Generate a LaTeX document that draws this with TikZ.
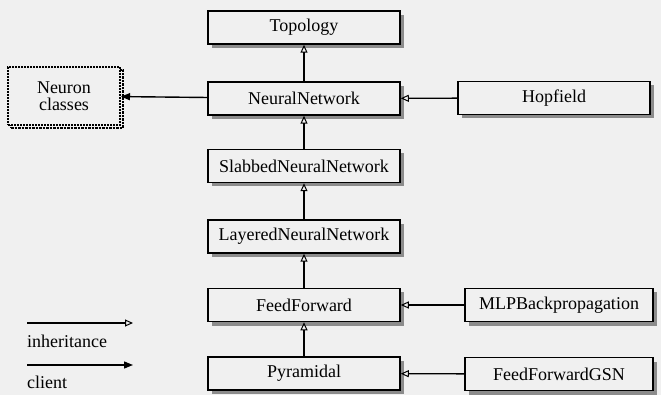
\documentclass[tikz,border=0pt]{standalone}
\usepackage{fontspec}
\setmainfont{Liberation Serif}
\usetikzlibrary{arrows.meta}

\tikzset{
  classbox/.style={draw, line width=1.5pt, fill=black!6, minimum width=192pt, minimum height=33pt,
    inner sep=0pt, font=\fontsize{18}{20}\selectfont,
    preaction={fill=black!45, transform canvas={xshift=4pt, yshift=-4pt}}},
  clusterbox/.style={draw, densely dotted, line width=2pt, fill=black!6, minimum width=112pt, minimum height=58pt,
    inner sep=0pt, align=center, font=\fontsize{18}{17}\selectfont,
    preaction={draw=black, densely dotted, line width=2.5pt, transform canvas={xshift=3pt, yshift=-3pt}}},
  inherit/.style={line width=1.4pt, -{Triangle[open, length=8pt, width=7pt, line width=1pt]}},
  client/.style={line width=1.4pt, -{Triangle[length=9pt, width=7pt]}}
}

\begin{document}
\begin{tikzpicture}[x=1pt, y=-1pt]
  \fill[black!6] (0,0) rectangle (661,395);
  \useasboundingbox (0,0) rectangle (661,395);

  \node[classbox] (topo) at (304,27.5) {Topology};
  \node[classbox] (nn) at (304,98.5) {NeuralNetwork};
  \node[classbox] (slab) at (304,166) {SlabbedNeuralNetwork};
  \node[classbox] (layer) at (304,236.5) {LayeredNeuralNetwork};
  \node[classbox] (ff) at (304,305) {FeedForward};
  \node[classbox] (pyr) at (304,373.5) {Pyramidal};
  \node[classbox] (hop) at (554,98) {Hopfield};
  \node[classbox, minimum width=188pt] (mlp) at (559,305) {MLPBackpropagation};
  \node[classbox, minimum width=188pt] (gsn) at (559,374) {FeedForwardGSN};
  \node[clusterbox] (neuron) at (64,96) {Neuron\\classes};

  % inheritance
  \draw[inherit] (nn) -- (topo);
  \draw[inherit] (slab) -- (nn);
  \draw[inherit] (layer) -- (slab);
  \draw[inherit] (ff) -- (layer);
  \draw[inherit] (pyr) -- (ff);
  \draw[inherit] (hop) -- (nn);
  \draw[inherit] (mlp) -- (ff);
  \draw[inherit] (gsn) -- (pyr);
  % client
  \draw[client] (nn) -- (neuron);

  % legend
  \coordinate (inhA) at (27,323);
  \coordinate (inhB) at (133,323);
  \coordinate (cliA) at (27,365);
  \coordinate (cliB) at (133,365);
  \draw[inherit] (inhA) -- (inhB);
  \draw[client] (cliA) -- (cliB);
  \node[anchor=west, inner sep=0pt, font=\fontsize{18}{20}\selectfont] (inhtext) at (27,341) {inheritance};
  \node[anchor=west, inner sep=0pt, font=\fontsize{18}{20}\selectfont] (clitext) at (27,382) {client};
\end{tikzpicture}
\end{document}
